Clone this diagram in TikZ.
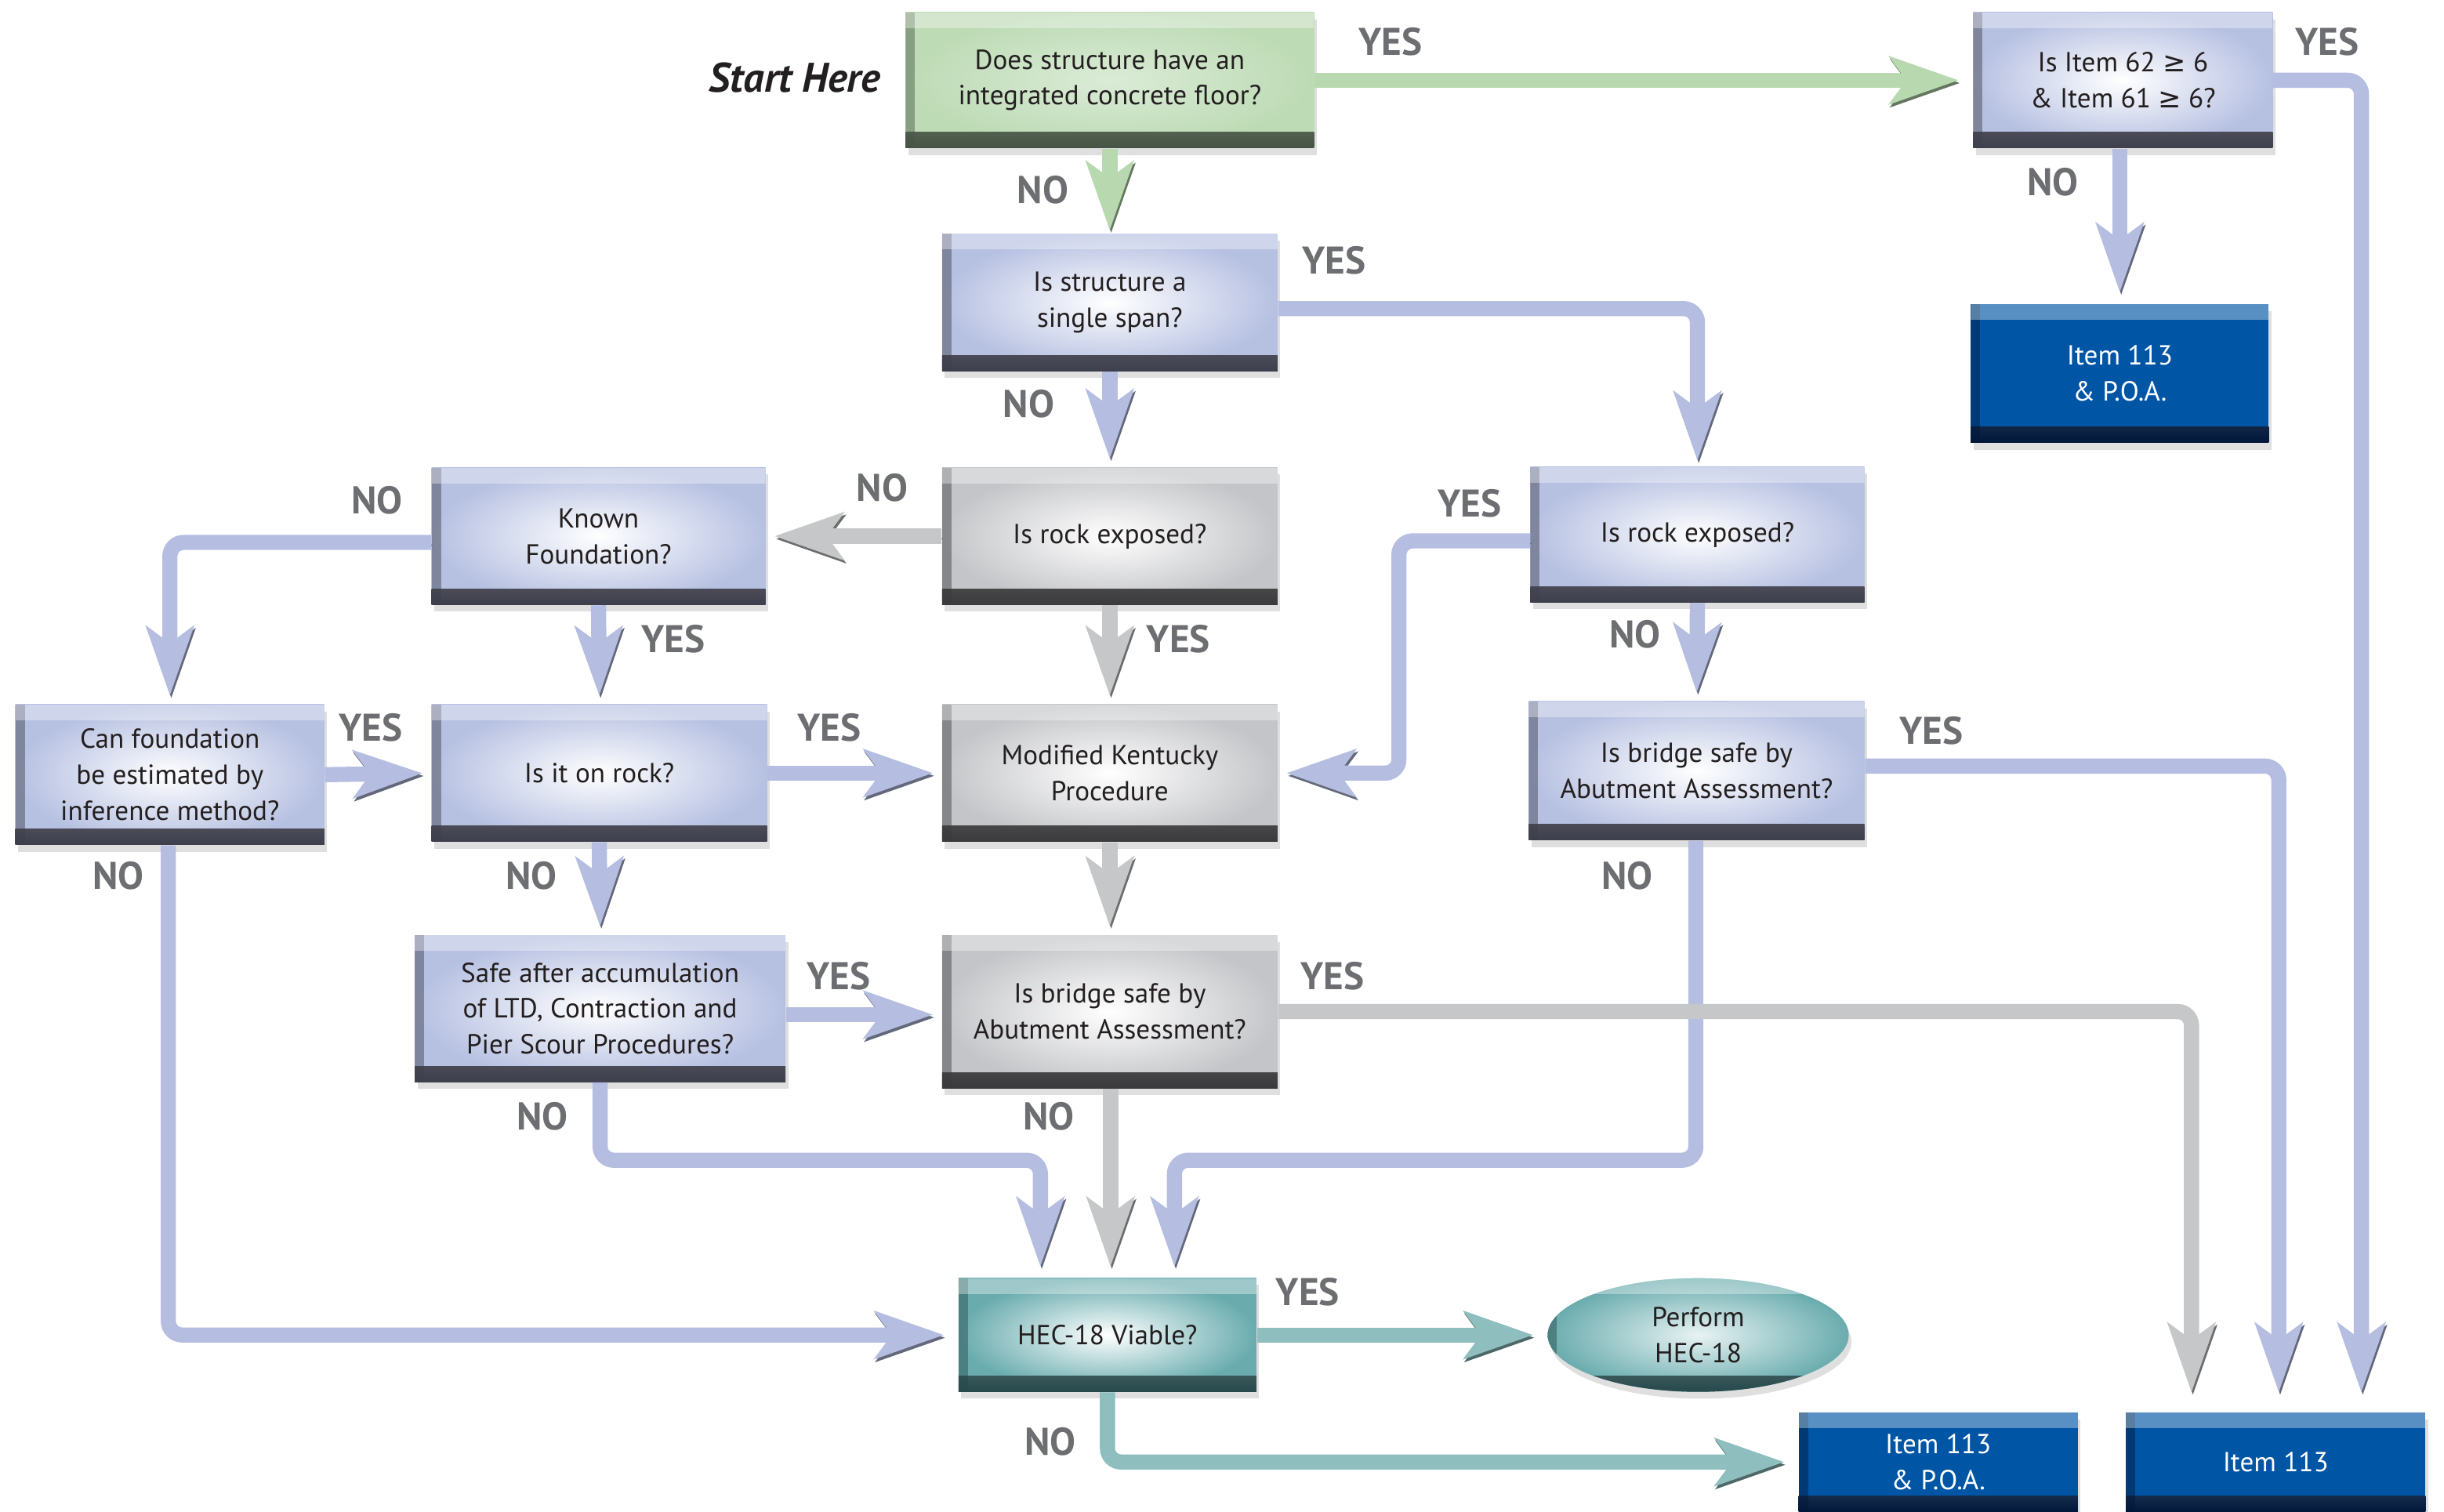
\documentclass[tikz,border=0pt]{standalone}
\usepackage{fontspec}
\setmainfont{PT Sans}
\newfontfamily\symfont{DejaVu Sans}
\usetikzlibrary{arrows.meta,shapes.geometric,shadows,calc}
\definecolor{boxblue}{HTML}{B6C0E1}
\definecolor{boxgray}{HTML}{C4C5C8}
\definecolor{boxgreen}{HTML}{BDDBB5}
\definecolor{boxteal}{HTML}{6AACAE}
\definecolor{navy}{HTML}{0055A5}
\definecolor{edgeblue}{HTML}{3E3F4C}
\definecolor{edgegray}{HTML}{3A3A3C}
\definecolor{edgegreen}{HTML}{465543}
\definecolor{edgeteal}{HTML}{27494B}
\definecolor{edgenavy}{HTML}{00173A}
\definecolor{arrowblue}{HTML}{B5BEE0}
\definecolor{arrowgray}{HTML}{C6C7C9}
\definecolor{arrowgreen}{HTML}{B8D9B0}
\definecolor{arrowteal}{HTML}{8EBEBE}
\definecolor{labelgray}{HTML}{6D6E71}
\definecolor{textblack}{HTML}{231F20}
\tikzset{
  bevel/.style={path picture={
    \shade[top color=#1!45!white, bottom color=#1] (path picture bounding box.south west) rectangle ([yshift=0.2cm]path picture bounding box.south east);
    \fill[#1, opacity=.45] (path picture bounding box.south west) rectangle ([xshift=0.12cm]path picture bounding box.north west);
    \fill[white, opacity=.35] (path picture bounding box.north west) rectangle ([yshift=-0.2cm]path picture bounding box.north east);
  }},
  box/.style={rectangle, inner sep=0pt, align=center, text=textblack,
    font=\fontsize{10}{13}\selectfont, minimum width=4.28cm, minimum height=1.75cm,
    drop shadow={opacity=.25, shadow xshift=1pt, shadow yshift=-2.5pt}},
  bluebox/.style={box, inner color=white, outer color=boxblue, bevel=edgeblue},
  graybox/.style={box, inner color=white, outer color=boxgray, bevel=edgegray},
  greenbox/.style={box, inner color=boxgreen!55!white, outer color=boxgreen, bevel=edgegreen},
  tealbox/.style={box, inner color=white, outer color=boxteal, bevel=edgeteal},
  endbox/.style={box, fill=navy, text=white, bevel=edgenavy},
  flow/.style={draw=#1, line width=5.5pt, rounded corners=5pt,
    -{Stealth[length=25pt, width=17pt, inset=6pt]}, shorten >=3pt,
    preaction={draw=#1!55!black, transform canvas={xshift=.5pt, yshift=-1pt}}},
  answer/.style={font=\fontsize{14}{14}\selectfont\bfseries, text=labelgray, inner sep=0pt}
}
\begin{document}
\begin{tikzpicture}[x=0.019885cm, y=-0.019885cm]
\useasboundingbox (0,0) rectangle (1568,970);
\node[greenbox, minimum width=5.21cm, minimum height=1.73cm] (q1) at (712,51.5) {Does structure have an\\integrated concrete floor?};
\node[bluebox, minimum width=3.82cm, minimum height=1.73cm] (q62) at (1362,51.5) {Is Item 62 {\symfont ≥} 6\\\& Item 61 {\symfont ≥} 6?};
\node[bluebox] (span) at (712,194) {Is structure a\\single span?};
\node[endbox, minimum width=3.80cm, minimum height=1.77cm] (itemt) at (1360,239.5) {Item 113\\\& P.O.A.};
\node[bluebox, minimum width=4.26cm] (known) at (384,344) {Known\\Foundation?};
\node[graybox] (rockm) at (712,344) {Is rock exposed?};
\node[bluebox, minimum width=4.26cm, minimum height=1.73cm] (rockr) at (1089,343) {Is rock exposed?};
\node[bluebox, minimum width=3.94cm, minimum height=1.79cm] (can) at (109,497) {Can foundation\\be estimated by\\inference method?};
\node[bluebox] (onrock) at (384.5,496) {Is it on rock?};
\node[graybox] (mk) at (712,496) {Modified Kentucky\\Procedure};
\node[bluebox, minimum height=1.77cm] (bridger) at (1088.5,494.5) {Is bridge safe by\\Abutment Assessment?};
\node[bluebox, minimum width=4.73cm, minimum height=1.87cm] (safe) at (385,647) {Safe after accumulation\\of LTD, Contraction and\\Pier Scour Procedures?};
\node[graybox, minimum height=1.95cm] (bridgem) at (712,649) {Is bridge safe by\\Abutment Assessment?};
\node[tealbox, minimum width=3.80cm, minimum height=1.45cm] (hec) at (710.5,856.5) {HEC-18 Viable?};
\node[ellipse, inner sep=0pt, align=center, text=textblack, font=\fontsize{10}{13}\selectfont,
  minimum width=3.84cm, minimum height=1.45cm, inner color=boxteal!15!white, outer color=boxteal,
  bevel=edgeteal, drop shadow={opacity=.25, shadow xshift=1pt, shadow yshift=-2.5pt}] (perform) at (1089.5,856.5) {Perform\\HEC-18};
\node[endbox, minimum width=3.56cm, minimum height=1.27cm] (itemp) at (1243.5,938) {Item 113\\\& P.O.A.};
\node[endbox, minimum width=3.82cm, minimum height=1.27cm] (itemr) at (1460,938) {Item 113};
\node[font=\fontsize{15}{15}\selectfont\bfseries\itshape, text=textblack, inner sep=0pt] (start) at (510,50) {Start Here};
% connectors
\draw[flow=arrowgreen, shorten >=5pt] (q1.east) -- (q62.west);
\draw[flow=arrowgreen, shorten >=1pt] (q1.south) -- (span.north);
\draw[flow=arrowblue, shorten >=7pt] (q62.east) -| ($(itemr.north)+(55,0)$);
\draw[flow=arrowblue, shorten >=4pt] ($(q62.south)+(-2,0)$) -- (itemt.north);
\draw[flow=arrowblue, shorten >=2pt] ($(span.east)+(0,4)$) -| (rockr.north);
\draw[flow=arrowblue] (span.south) -- (rockm.north);
\draw[flow=arrowgray] (rockm.west) -- (known.east);
\draw[flow=arrowgray] (rockm.south) -- (mk.north);
\draw[flow=arrowblue] ($(rockr.west)+(0,4)$) -- ++(-84,0) |- (mk.east);
\draw[flow=arrowblue] (rockr.south) -- (bridger.north);
\draw[flow=arrowblue] ($(known.west)+(0,4)$) -| (can.north);
\draw[flow=arrowblue] (known.south) -- (onrock.north);
\draw[flow=arrowblue] (can.east) -- (onrock.west);
\draw[flow=arrowblue] (onrock.east) -- (mk.west);
\draw[flow=arrowblue] (onrock.south) -- (safe.north);
\draw[flow=arrowblue, shorten >=5pt] ($(can.south)+(-1,0)$) |- (hec.west);
\draw[flow=arrowgray] (mk.south) -- (bridgem.north);
\draw[flow=arrowblue] ($(safe.east)+(0,4)$) -- ($(bridgem.west)+(0,2)$);
\draw[flow=arrowblue, shorten >=4pt] (safe.south) -- ++(0,50) -| ($(hec.north)+(-43,0)$);
\draw[flow=arrowblue, shorten >=4pt] ($(bridger.south)+(-0.5,0)$) -- ++(0,205) -| ($(hec.north)+(43,0)$);
\draw[flow=arrowblue, shorten >=7pt] ($(bridger.east)+(0,-3)$) -| ($(itemr.north)+(2,0)$);
\draw[flow=arrowgray, shorten >=4pt] ($(bridgem.south)+(0.5,0)$) -- ($(hec.north)+(2,0)$);
\draw[flow=arrowgray, shorten >=7pt] (bridgem.east) -| ($(itemr.north)+(-54,0)$);
\draw[flow=arrowteal, shorten >=5pt] (hec.east) -- (perform.west);
\draw[flow=arrowteal, shorten >=5pt] (hec.south) |- (itemp.west);
% answers
\foreach \i/\x/\y in {1/892/27, 2/1493/27, 3/856/167, 4/943/323, 5/432/410, 6/756/410,
  7/238/467, 8/532/467, 9/1239/469, 10/538/626, 11/855/626, 12/839/829}
  \node[answer] (yes\i) at (\x,\y) {YES};
\foreach \i/\x/\y in {1/669/122, 2/1317/117, 3/660/259, 4/566/313, 5/242/321, 6/1049/407,
  7/76/562, 8/341/562, 9/1044/562, 10/348/716, 11/673/716, 12/674/925}
  \node[answer] (no\i) at (\x,\y) {NO};
\end{tikzpicture}
\end{document}
